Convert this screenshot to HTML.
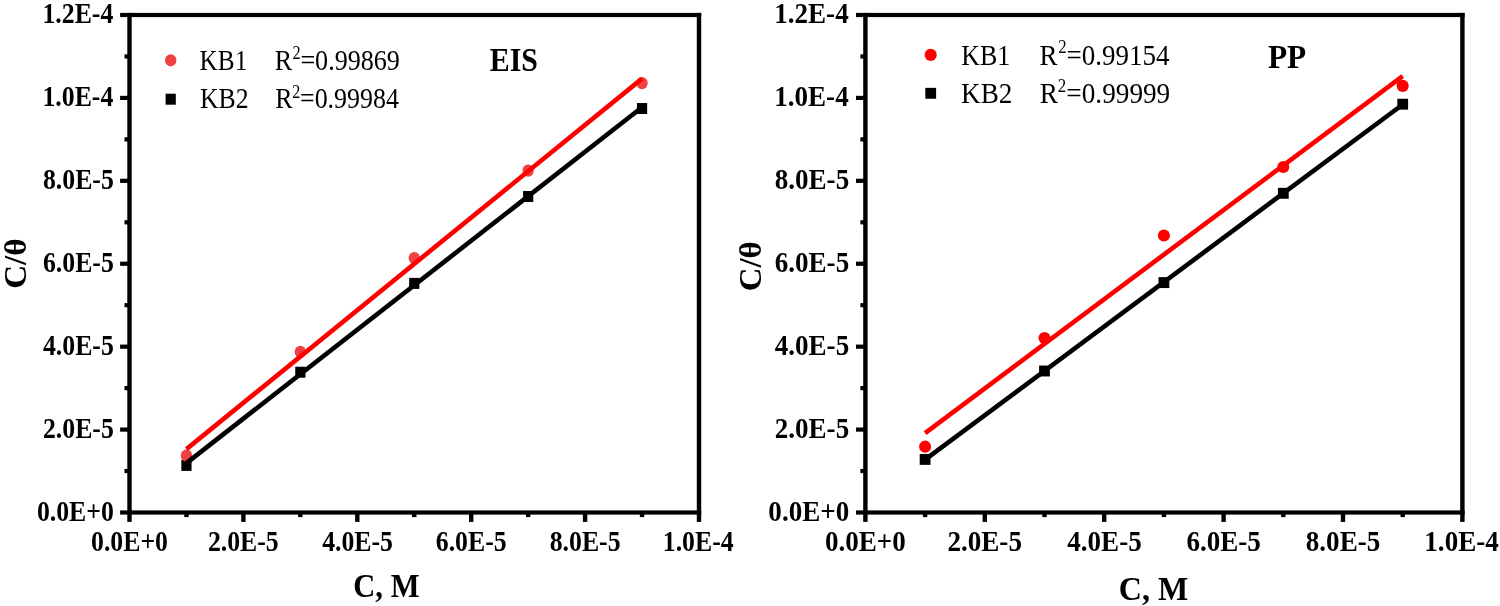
<!DOCTYPE html><html><head><meta charset="utf-8"><style>html,body{margin:0;padding:0;background:#fff;overflow:hidden}svg{display:block;will-change:transform}text{font-family:"Liberation Serif",serif;font-kerning:none}</style></head><body>
<svg width="1500" height="606" viewBox="0 0 1500 606">
<rect width="1500" height="606" fill="#fff"/>
<g>
<rect x="181.35" y="459.9" width="10.2" height="11.0" fill="#000"/>
<ellipse cx="186.45" cy="455.6" rx="5.7" ry="6.1" fill="#EF4043"/>
<rect x="295.25" y="366.7" width="10.2" height="11.0" fill="#000"/>
<ellipse cx="300.35" cy="351.9" rx="5.7" ry="6.1" fill="#EF4043"/>
<rect x="409.15" y="277.9" width="10.2" height="11.0" fill="#000"/>
<ellipse cx="414.25" cy="258.1" rx="5.7" ry="6.1" fill="#EF4043"/>
<rect x="523.05" y="191" width="10.2" height="11.0" fill="#000"/>
<ellipse cx="528.15" cy="170.6" rx="5.7" ry="6.1" fill="#EF4043"/>
<rect x="636.95" y="103" width="10.2" height="11.0" fill="#000"/>
<ellipse cx="642.05" cy="83.1" rx="5.7" ry="6.1" fill="#EF4043"/>
<line x1="186.45" y1="449.1" x2="642.05" y2="78.6" stroke="#f00" stroke-width="4.6"/>
<line x1="186.45" y1="463.1" x2="642.05" y2="107.3" stroke="#000" stroke-width="4.6"/>
<rect x="127.3" y="12.9" width="4.4" height="509" fill="#000"/>
<rect x="696.8" y="12.9" width="4.4" height="509" fill="#000"/>
<rect x="120.1" y="12.9" width="581.1" height="4.2" fill="#000"/>
<rect x="120.1" y="510.4" width="581.1" height="4.2" fill="#000"/>
<rect x="124.5" y="468.94" width="4" height="4.2" fill="#000"/>
<rect x="120.1" y="427.48" width="8" height="4.2" fill="#000"/>
<rect x="124.5" y="386.02" width="4" height="4.2" fill="#000"/>
<rect x="120.1" y="344.57" width="8" height="4.2" fill="#000"/>
<rect x="124.5" y="303.11" width="4" height="4.2" fill="#000"/>
<rect x="120.1" y="261.65" width="8" height="4.2" fill="#000"/>
<rect x="124.5" y="220.19" width="4" height="4.2" fill="#000"/>
<rect x="120.1" y="178.73" width="8" height="4.2" fill="#000"/>
<rect x="124.5" y="137.28" width="4" height="4.2" fill="#000"/>
<rect x="120.1" y="95.82" width="8" height="4.2" fill="#000"/>
<rect x="124.5" y="54.36" width="4" height="4.2" fill="#000"/>
<rect x="184.25" y="512.5" width="4.4" height="4.6" fill="#000"/>
<rect x="241.2" y="512.5" width="4.4" height="9.4" fill="#000"/>
<rect x="298.15" y="512.5" width="4.4" height="4.6" fill="#000"/>
<rect x="355.1" y="512.5" width="4.4" height="9.4" fill="#000"/>
<rect x="412.05" y="512.5" width="4.4" height="4.6" fill="#000"/>
<rect x="469" y="512.5" width="4.4" height="9.4" fill="#000"/>
<rect x="525.95" y="512.5" width="4.4" height="4.6" fill="#000"/>
<rect x="582.9" y="512.5" width="4.4" height="9.4" fill="#000"/>
<rect x="639.85" y="512.5" width="4.4" height="4.6" fill="#000"/>
<text transform="translate(36.89,520.97) scale(0.8950,1)" font-size="28.8" font-weight="bold" fill="#000">0.0E+0</text>
<text transform="translate(42.96,438.06) scale(0.8950,1)" font-size="28.8" font-weight="bold" fill="#000">2.0E-5</text>
<text transform="translate(42.96,355.14) scale(0.8950,1)" font-size="28.8" font-weight="bold" fill="#000">4.0E-5</text>
<text transform="translate(42.96,272.22) scale(0.8950,1)" font-size="28.8" font-weight="bold" fill="#000">6.0E-5</text>
<text transform="translate(42.96,189.31) scale(0.8950,1)" font-size="28.8" font-weight="bold" fill="#000">8.0E-5</text>
<text transform="translate(42.49,106.39) scale(0.8950,1)" font-size="28.8" font-weight="bold" fill="#000">1.0E-4</text>
<text transform="translate(42.49,23.43) scale(0.8950,1)" font-size="28.8" font-weight="bold" fill="#000">1.2E-4</text>
<text transform="translate(91.01,551.25) scale(0.8950,1)" font-size="28.8" font-weight="bold" fill="#000">0.0E+0</text>
<text transform="translate(207.89,551.25) scale(0.8950,1)" font-size="28.8" font-weight="bold" fill="#000">2.0E-5</text>
<text transform="translate(322.15,551.25) scale(0.8950,1)" font-size="28.8" font-weight="bold" fill="#000">4.0E-5</text>
<text transform="translate(435.79,551.25) scale(0.8950,1)" font-size="28.8" font-weight="bold" fill="#000">6.0E-5</text>
<text transform="translate(549.7,551.25) scale(0.8950,1)" font-size="28.8" font-weight="bold" fill="#000">8.0E-5</text>
<text transform="translate(662.77,551.25) scale(0.8950,1)" font-size="28.8" font-weight="bold" fill="#000">1.0E-4</text>
<text transform="translate(353.31,597.2) scale(0.9174,1)" font-size="33.3" font-weight="bold" fill="#000">C, M</text>
<text transform="translate(26,288.82) scale(0.9300,0.9946) rotate(-90)" font-size="33.3" font-weight="bold">C/θ</text>
<text transform="translate(489.79,70.8) scale(0.8974,1)" font-size="33.3" font-weight="bold" fill="#000">EIS</text>
<ellipse cx="170.7" cy="60.3" rx="5.7" ry="6.1" fill="#EF4043"/>
<rect x="165.6" y="93.7" width="10.2" height="11.0" fill="#000"/>
<text transform="translate(199.62,69.8) scale(0.8705,1)" font-size="29.0" fill="#000">KB1</text>
<text transform="translate(274.75,69.8) scale(0.9002,1)" font-size="29.0" fill="#000">R</text>
<text transform="translate(292.59,59.1) scale(0.9002,1)" font-size="18.0" fill="#000">2</text>
<text transform="translate(300.4,69.8) scale(0.9002,1)" font-size="29.0" fill="#000">=0.99869</text>
<text transform="translate(199.96,108.4) scale(0.8883,1)" font-size="29.0" fill="#000">KB2</text>
<text transform="translate(275.25,108.4) scale(0.8951,1)" font-size="29.0" fill="#000">R</text>
<text transform="translate(292.29,97.8) scale(0.8951,1)" font-size="18.0" fill="#000">2</text>
<text transform="translate(300.01,108.4) scale(0.8951,1)" font-size="29.0" fill="#000">=0.99984</text>
</g>
<g>
<rect x="919.7" y="453.95" width="10.8" height="10.9" fill="#000"/>
<ellipse cx="925.1" cy="446.7" rx="6.05" ry="6.1" fill="#FF0000"/>
<rect x="1039.1" y="365.55" width="10.8" height="10.9" fill="#000"/>
<ellipse cx="1044.5" cy="338" rx="6.05" ry="6.1" fill="#FF0000"/>
<rect x="1158.5" y="277.15" width="10.8" height="10.9" fill="#000"/>
<ellipse cx="1163.9" cy="235.5" rx="6.05" ry="6.1" fill="#FF0000"/>
<rect x="1277.9" y="187.85" width="10.8" height="10.9" fill="#000"/>
<ellipse cx="1283.3" cy="167" rx="6.05" ry="6.1" fill="#FF0000"/>
<rect x="1397.3" y="98.75" width="10.8" height="10.9" fill="#000"/>
<ellipse cx="1402.7" cy="85.9" rx="6.05" ry="6.1" fill="#FF0000"/>
<line x1="925.1" y1="433.1" x2="1402.7" y2="76.1" stroke="#f00" stroke-width="4.6"/>
<line x1="925.1" y1="459.7" x2="1402.7" y2="104.5" stroke="#000" stroke-width="4.6"/>
<rect x="863.2" y="12.9" width="4.4" height="509" fill="#000"/>
<rect x="1460.2" y="12.9" width="4.4" height="509" fill="#000"/>
<rect x="856" y="12.9" width="608.6" height="4.2" fill="#000"/>
<rect x="856" y="510.4" width="608.6" height="4.2" fill="#000"/>
<rect x="860.4" y="468.94" width="4" height="4.2" fill="#000"/>
<rect x="856" y="427.48" width="8" height="4.2" fill="#000"/>
<rect x="860.4" y="386.02" width="4" height="4.2" fill="#000"/>
<rect x="856" y="344.57" width="8" height="4.2" fill="#000"/>
<rect x="860.4" y="303.11" width="4" height="4.2" fill="#000"/>
<rect x="856" y="261.65" width="8" height="4.2" fill="#000"/>
<rect x="860.4" y="220.19" width="4" height="4.2" fill="#000"/>
<rect x="856" y="178.73" width="8" height="4.2" fill="#000"/>
<rect x="860.4" y="137.28" width="4" height="4.2" fill="#000"/>
<rect x="856" y="95.82" width="8" height="4.2" fill="#000"/>
<rect x="860.4" y="54.36" width="4" height="4.2" fill="#000"/>
<rect x="922.9" y="512.5" width="4.4" height="4.6" fill="#000"/>
<rect x="982.6" y="512.5" width="4.4" height="9.4" fill="#000"/>
<rect x="1042.3" y="512.5" width="4.4" height="4.6" fill="#000"/>
<rect x="1102" y="512.5" width="4.4" height="9.4" fill="#000"/>
<rect x="1161.7" y="512.5" width="4.4" height="4.6" fill="#000"/>
<rect x="1221.4" y="512.5" width="4.4" height="9.4" fill="#000"/>
<rect x="1281.1" y="512.5" width="4.4" height="4.6" fill="#000"/>
<rect x="1340.8" y="512.5" width="4.4" height="9.4" fill="#000"/>
<rect x="1400.5" y="512.5" width="4.4" height="4.6" fill="#000"/>
<text transform="translate(768.37,520.97) scale(0.9400,1)" font-size="28.8" font-weight="bold" fill="#000">0.0E+0</text>
<text transform="translate(774.74,438.06) scale(0.9400,1)" font-size="28.8" font-weight="bold" fill="#000">2.0E-5</text>
<text transform="translate(774.74,355.14) scale(0.9400,1)" font-size="28.8" font-weight="bold" fill="#000">4.0E-5</text>
<text transform="translate(774.74,272.22) scale(0.9400,1)" font-size="28.8" font-weight="bold" fill="#000">6.0E-5</text>
<text transform="translate(774.74,189.31) scale(0.9400,1)" font-size="28.8" font-weight="bold" fill="#000">8.0E-5</text>
<text transform="translate(774.25,106.39) scale(0.9400,1)" font-size="28.8" font-weight="bold" fill="#000">1.0E-4</text>
<text transform="translate(774.25,23.43) scale(0.9400,1)" font-size="28.8" font-weight="bold" fill="#000">1.2E-4</text>
<text transform="translate(824.97,551.25) scale(0.9400,1)" font-size="28.8" font-weight="bold" fill="#000">0.0E+0</text>
<text transform="translate(947.5,551.25) scale(0.9400,1)" font-size="28.8" font-weight="bold" fill="#000">2.0E-5</text>
<text transform="translate(1067.29,551.25) scale(0.9400,1)" font-size="28.8" font-weight="bold" fill="#000">4.0E-5</text>
<text transform="translate(1186.41,551.25) scale(0.9400,1)" font-size="28.8" font-weight="bold" fill="#000">6.0E-5</text>
<text transform="translate(1305.82,551.25) scale(0.9400,1)" font-size="28.8" font-weight="bold" fill="#000">8.0E-5</text>
<text transform="translate(1424.34,551.25) scale(0.9400,1)" font-size="28.8" font-weight="bold" fill="#000">1.0E-4</text>
<text transform="translate(1118.83,600.4) scale(0.9634,1)" font-size="33.3" font-weight="bold" fill="#000">C, M</text>
<text transform="translate(760.8,291.3) scale(0.9300,0.9862) rotate(-90)" font-size="33.3" font-weight="bold">C/θ</text>
<text transform="translate(1267.96,68.4) scale(0.9421,1)" font-size="33.3" font-weight="bold" fill="#000">PP</text>
<ellipse cx="930.7" cy="54.9" rx="6.05" ry="6.1" fill="#FF0000"/>
<rect x="925.3" y="87.85" width="10.8" height="10.9" fill="#000"/>
<text transform="translate(961.35,64.5) scale(0.8945,1)" font-size="29.0" fill="#000">KB1</text>
<text transform="translate(1039.62,64.5) scale(0.9309,1)" font-size="29.0" fill="#000">R</text>
<text transform="translate(1058.16,53.1) scale(0.9309,1)" font-size="18.0" fill="#000">2</text>
<text transform="translate(1066.56,64.5) scale(0.9309,1)" font-size="29.0" fill="#000">=0.99154</text>
<text transform="translate(961.12,103.1) scale(0.9360,1)" font-size="29.0" fill="#000">KB2</text>
<text transform="translate(1039.81,103.1) scale(0.9401,1)" font-size="29.0" fill="#000">R</text>
<text transform="translate(1057.76,91.7) scale(0.9401,1)" font-size="18.0" fill="#000">2</text>
<text transform="translate(1066.34,103.1) scale(0.9401,1)" font-size="29.0" fill="#000">=0.99999</text>
</g>
</svg></body></html>
